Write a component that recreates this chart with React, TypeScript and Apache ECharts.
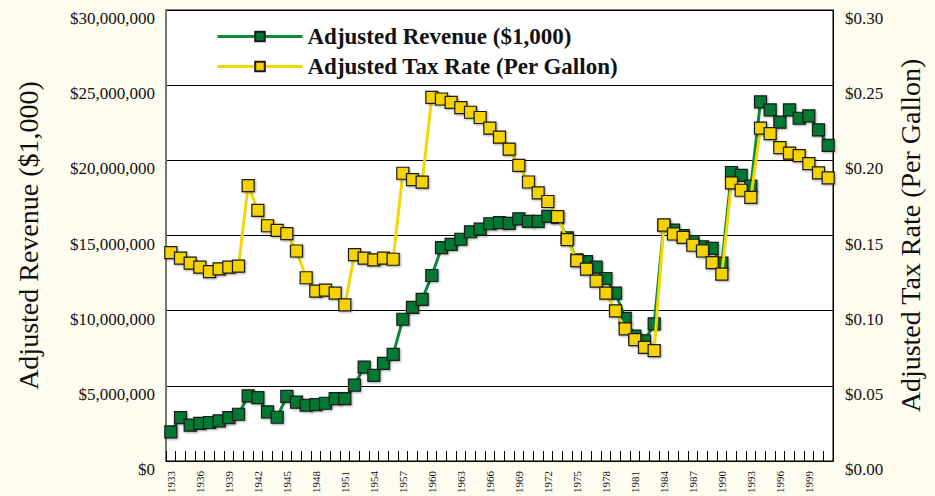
import React, { useEffect, useRef } from "react";
import * as echarts from "echarts";

const years: string[] = [];
for (let y = 1933; y <= 2001; y++) years.push(String(y));

const revenue = [
  1940000, 2890000, 2380000, 2500000, 2560000, 2670000, 2890000, 3110000, 4330000, 4220000,
  3270000, 2910000, 4300000, 3910000, 3710000, 3750000, 3840000, 4150000, 4150000, 5050000,
  6250000, 5700000, 6490000, 7090000, 9430000, 10220000, 10750000, 12340000, 14190000, 14410000,
  14750000, 15250000, 15430000, 15780000, 15850000, 15810000, 16110000, 15940000, 15940000, 16270000,
  16200000, 14850000, 13380000, 13260000, 12890000, 12140000, 11170000, 9490000, 8300000, 8000000,
  9120000, 15700000, 15360000, 15000000, 14600000, 14250000, 14150000, 13160000, 19190000, 19000000,
  18280000, 23890000, 23360000, 22540000, 23360000, 22800000, 22960000, 22030000, 20990000,
];

const taxRate = [
  0.1386, 0.1349, 0.1316, 0.1289, 0.126, 0.1278, 0.1289, 0.1296, 0.1832, 0.1667,
  0.1565, 0.1534, 0.1512, 0.1397, 0.1219, 0.113, 0.1137, 0.1117, 0.1038, 0.1373,
  0.1349, 0.1338, 0.1349, 0.1342, 0.1914, 0.1872, 0.1855, 0.2419, 0.2408, 0.2386,
  0.2351, 0.232, 0.2285, 0.2214, 0.2154, 0.2075, 0.1967, 0.1856, 0.1783, 0.1726,
  0.1625, 0.1472, 0.1333, 0.1276, 0.1197, 0.1117, 0.0998, 0.0879, 0.0808, 0.0756,
  0.0734, 0.157, 0.151, 0.1488, 0.1435, 0.1397, 0.132, 0.1243, 0.185, 0.1801,
  0.1753, 0.2214, 0.2177, 0.2084, 0.2048, 0.2031, 0.1978, 0.1916, 0.1883,
];

const FONT = "'Liberation Serif', 'Times New Roman', serif";

export default function App() {
  const ref = useRef<HTMLDivElement>(null);
  useEffect(() => {
    document.body.style.margin = "0";
    const chart = echarts.init(ref.current!, null, { renderer: "svg" });
    const markerShadow = {
      shadowColor: "rgba(0,0,0,0.35)",
      shadowBlur: 2,
      shadowOffsetX: 1,
      shadowOffsetY: 1,
    };
    chart.setOption({
      animation: false,
      backgroundColor: "#FEFCEF",
      textStyle: { fontFamily: FONT },
      grid: {
        left: 166,
        right: 102,
        top: 10,
        bottom: 35,
        show: true,
        backgroundColor: "#ffffff",
        borderColor: "#000",
        borderWidth: 1,
      },
      legend: {
        orient: "vertical",
        left: 211,
        top: 20,
        itemWidth: 85,
        itemHeight: 12,
        itemGap: 7,
        itemTextGap: 9,
        lineStyle: { width: 3 },
        textStyle: { fontFamily: FONT, fontSize: 23, fontWeight: "bold", color: "#111" },
        data: ["Adjusted Revenue ($1,000)", "Adjusted Tax Rate (Per Gallon)"],
      },
      xAxis: {
        type: "category",
        data: years,
        boundaryGap: true,
        axisLine: { lineStyle: { color: "#000", width: 1 } },
        axisTick: { show: true, inside: true, length: 10, interval: 0, lineStyle: { color: "#000" } },
        axisLabel: {
          interval: 2,
          rotate: 90,
          margin: 10,
          fontSize: 11,
          fontFamily: FONT,
          color: "#111",
        },
      },
      yAxis: [
        {
          type: "value",
          min: 0,
          max: 30000000,
          interval: 5000000,
          name: "Adjusted Revenue ($1,000)",
          nameLocation: "middle",
          nameRotate: 90,
          nameGap: 124,
          nameTextStyle: { fontFamily: FONT, fontSize: 28, color: "#111" },
          axisLine: { show: true, lineStyle: { color: "#777", width: 2 } },
          axisTick: { show: false },
          splitLine: { show: true, lineStyle: { color: "#000", width: 1 } },
          axisLabel: {
            margin: 11,
            fontSize: 17,
            fontFamily: FONT,
            color: "#111",
            verticalAlign: "top",
            padding: [0, 0, 0, 0],
            formatter: (v: number) => "$" + v.toLocaleString("en-US"),
          },
        },
        {
          type: "value",
          min: 0,
          max: 0.3,
          interval: 0.05,
          position: "right",
          name: "Adjusted Tax Rate (Per Gallon)",
          nameLocation: "middle",
          nameRotate: 90,
          nameGap: 63,
          nameTextStyle: { fontFamily: FONT, fontSize: 28, color: "#111" },
          axisLine: { show: true, lineStyle: { color: "#000", width: 1 } },
          axisTick: { show: false },
          splitLine: { show: false },
          axisLabel: {
            margin: 12,
            fontSize: 17,
            fontFamily: FONT,
            color: "#111",
            verticalAlign: "top",
            padding: [0, 0, 0, 0],
            formatter: (v: number) => "$" + v.toFixed(2),
          },
        },
      ],
      series: [
        {
          name: "Adjusted Revenue ($1,000)",
          type: "line",
          yAxisIndex: 0,
          data: revenue,
          symbol: "rect",
          symbolSize: 12,
          showAllSymbol: true,
          lineStyle: { color: "#0B8A3A", width: 3 },
          itemStyle: { color: "#007A33", borderColor: "#1a1a1a", borderWidth: 1.2, ...markerShadow },
          z: 2,
        },
        {
          name: "Adjusted Tax Rate (Per Gallon)",
          type: "line",
          yAxisIndex: 1,
          data: taxRate,
          symbol: "rect",
          symbolSize: 12,
          showAllSymbol: true,
          lineStyle: { color: "#F5D600", width: 3 },
          itemStyle: { color: "#F4D300", borderColor: "#1a1a1a", borderWidth: 1.2, ...markerShadow },
          z: 3,
        },
      ],
    });
    return () => chart.dispose();
  }, []);
  return <div ref={ref} style={{ width: 935, height: 496 }} />;
}
